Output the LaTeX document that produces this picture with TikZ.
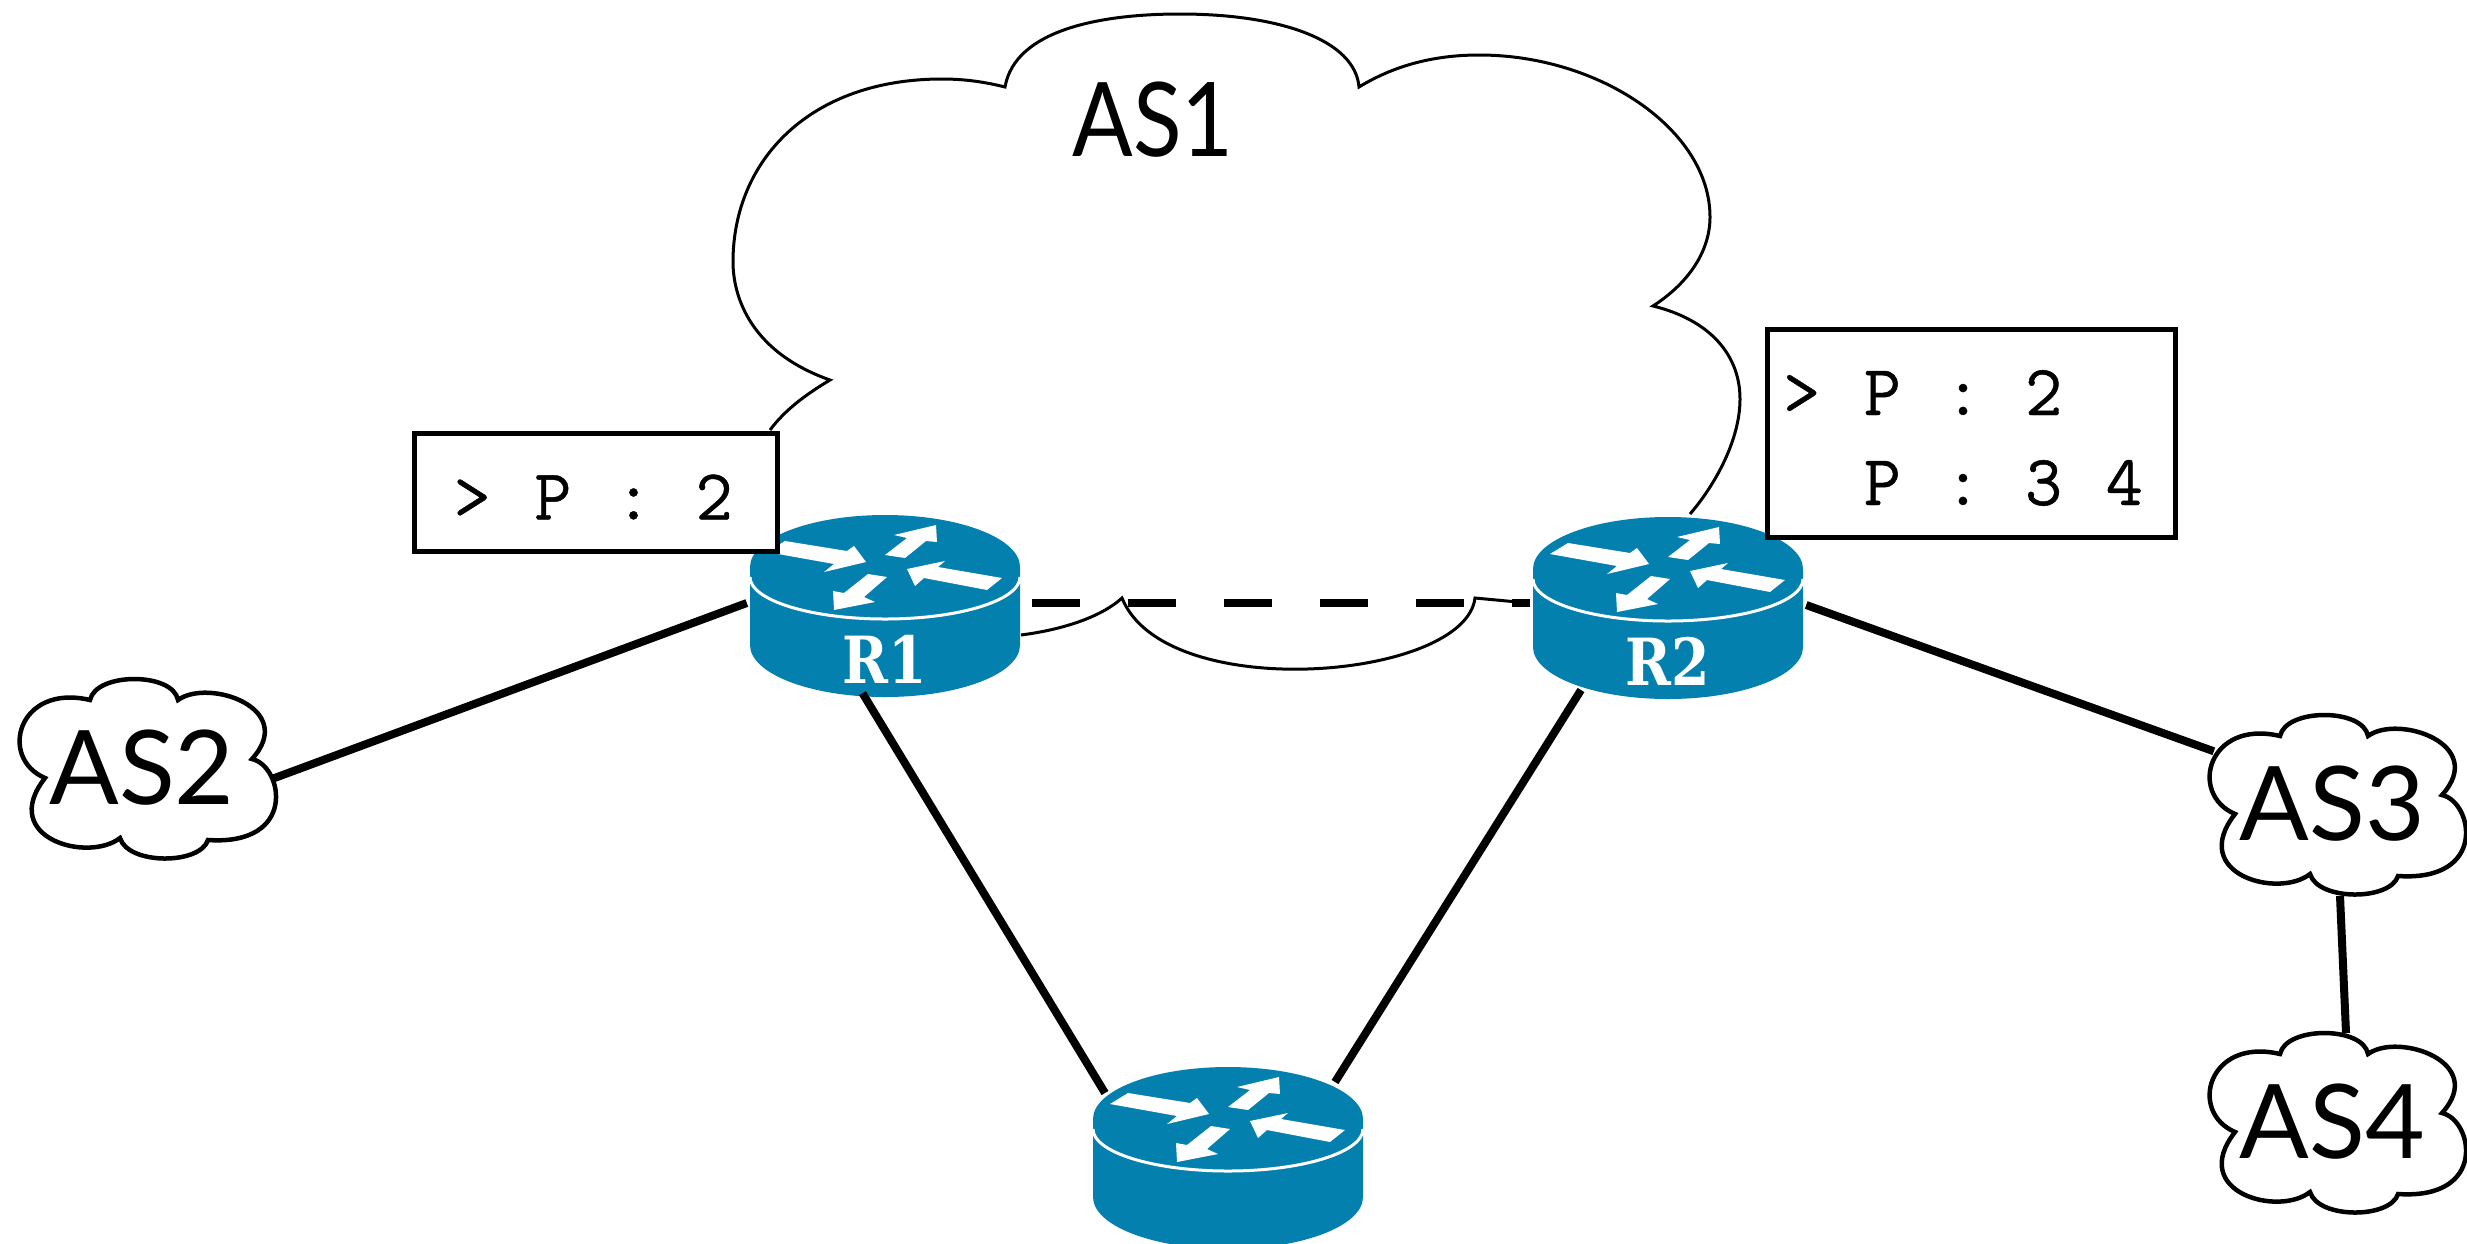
\documentclass[tikz,border=0pt]{standalone}
\usepackage{fontspec}
\usetikzlibrary{positioning}
\setsansfont{Lato}
\setmonofont{Latin Modern Mono}[LetterSpace=9,FakeBold=0.6]
\newfontfamily\routerfont{DejaVu Serif}[FakeStretch=0.85]
\definecolor{routerblue}{HTML}{0480AE}
\tikzset{
    boxtext/.style={font=\ttfamily\fontsize{72}{90}\selectfont,align=left,inner sep=0pt,yshift=-5pt},
    asname/.style={font=\sffamily\fontsize{103}{103}\selectfont,inner sep=0pt,minimum width=248pt,minimum height=180pt},
    wire/.style={line width=8pt},
    tablebox/.style={draw,line width=5pt,fill=white,inner sep=0pt},
    % router drawn around the middle of its top face
    routericon/.pic={
        \fill[routerblue] (-135,0) -- (-135,78) arc[start angle=180,end angle=0,x radius=135,y radius=52] -- (135,0)
            arc[start angle=0,end angle=-180,x radius=135,y radius=52] -- cycle;
        \draw[white,line width=3pt] (-135,10) arc[start angle=180,end angle=0,x radius=135,y radius=42];
        \fill[white] (-118,-15) -- (-100,-26) -- (-38,-16) -- (-31,-21) -- (-19,-5) -- (-61,5) -- (-51,-3) -- cycle;
        \fill[white] (0,-12) -- (22,-29) -- (9,-32) -- (51,-42) -- (52,-25) -- (41,-26) -- (20,-9) -- cycle;
        \fill[white] (117,11) -- (102,23) -- (39,11) -- (30,19) -- (22,2) -- (60,-6) -- (53,0) -- cycle;
        \fill[white] (2,10) -- (-21,30) -- (-10,35) -- (-51,43) -- (-52,24) -- (-41,26) -- (-17,7) -- cycle;
        \node[minimum width=276pt,minimum height=180pt,inner sep=0pt] (box) at (0,36) {};
        \node[white,font=\routerfont\bfseries\fontsize{65}{65}\selectfont,inner sep=0pt] (text) at (0,92) {#1};
    },
    ascloud/.pic={
        \draw[line width=4.5pt,fill=white] (-58,-68) .. controls (-52,-96) and (25,-96) .. (30,-68)
            .. controls (60,-90) and (150,-60) .. (104,-9)
            .. controls (135,-2) and (150,78) .. (60,72)
            .. controls (52,97) and (-20,97) .. (-28,70)
            .. controls (-60,95) and (-150,70) .. (-103,10)
            .. controls (-150,-10) and (-130,-85) .. (-58,-68) -- cycle;
    },
}
\begin{document}
\begin{tikzpicture}[x=1pt,y=-1pt]
    \useasboundingbox (0,0) rectangle (2467,1243);
    % big cloud, open at the bottom
    \draw[line width=3pt] (770,430) .. controls (785,410) and (805,395) .. (830,380)
        .. controls (745,350) and (733,290) .. (733,262)
        .. controls (733,160) and (810,79) .. (942,79)
        .. controls (965,79) and (985,82) .. (1005,87)
        .. controls (1015,30) and (1100,14) .. (1180,14)
        .. controls (1280,14) and (1355,40) .. (1359,87)
        .. controls (1395,65) and (1435,55) .. (1479,55)
        .. controls (1600,55) and (1710,130) .. (1710,217)
        .. controls (1710,250) and (1690,282) .. (1653,306)
        .. controls (1710,320) and (1740,355) .. (1740,399)
        .. controls (1740,440) and (1715,485) .. (1690,514);
    \draw[line width=3pt] (1021,635) .. controls (1060,630) and (1100,618) .. (1122,598)
        .. controls (1165,705) and (1465,680) .. (1475,598) -- (1528,603);
    \node[font=\sffamily\fontsize{103}{103}\selectfont,inner sep=0pt] (as1) at (1153,120) {\scalebox{.87}[1]{AS1}};
    \pic (r1) at (885,567) {routericon={R1}};
    \pic (r2) at (1668,569) {routericon={R2}};
    \pic (r3) at (1228,1119) {routericon={}};
    \pic at (148,768) {ascloud};
    \pic at (2338,804) {ascloud};
    \pic at (2338,1122) {ascloud};
    \node[asname] (as2) at (148,768) {AS2\kern12pt};
    \node[asname] (as3) at (2338,804) {AS3\kern12pt};
    \node[asname] (as4) at (2338,1122) {AS4\kern12pt};
    \coordinate (r3nw) at (1105,1093);
    \coordinate (r3ne) at (1335,1082);
    \coordinate (r2sw) at (1581,690);
    \coordinate (as3s) at (2340,896);
    \coordinate (as4n) at (2346,1033);
    \draw[wire] (r1box.west) -- (as2.-5);
    \draw[wire] (r1box.256) -- (r3nw);
    \draw[wire] (r2sw) -- (r3ne);
    \draw[wire] (r2box.east) -- (as3.157);
    \draw[wire] (as3s) -- (as4n);
    \draw[line width=8pt,dash pattern=on 48pt off 48pt,shorten <=9pt] (r1box.east) -- (r2box.west |- r1box.east);
    \node[tablebox,minimum width=363pt,minimum height=118pt] (tbl1) at (595.5,492) {};
    \node[boxtext,right=42pt of tbl1.west] (tbl1text) {> P : 2};
    \node[tablebox,minimum width=408pt,minimum height=208pt] (tbl2) at (1971.5,433) {};
    \node[boxtext,right=18pt of tbl2.west] (tbl2text) {> P : 2\\\phantom{>} P : 3 4};
\end{tikzpicture}
\end{document}
